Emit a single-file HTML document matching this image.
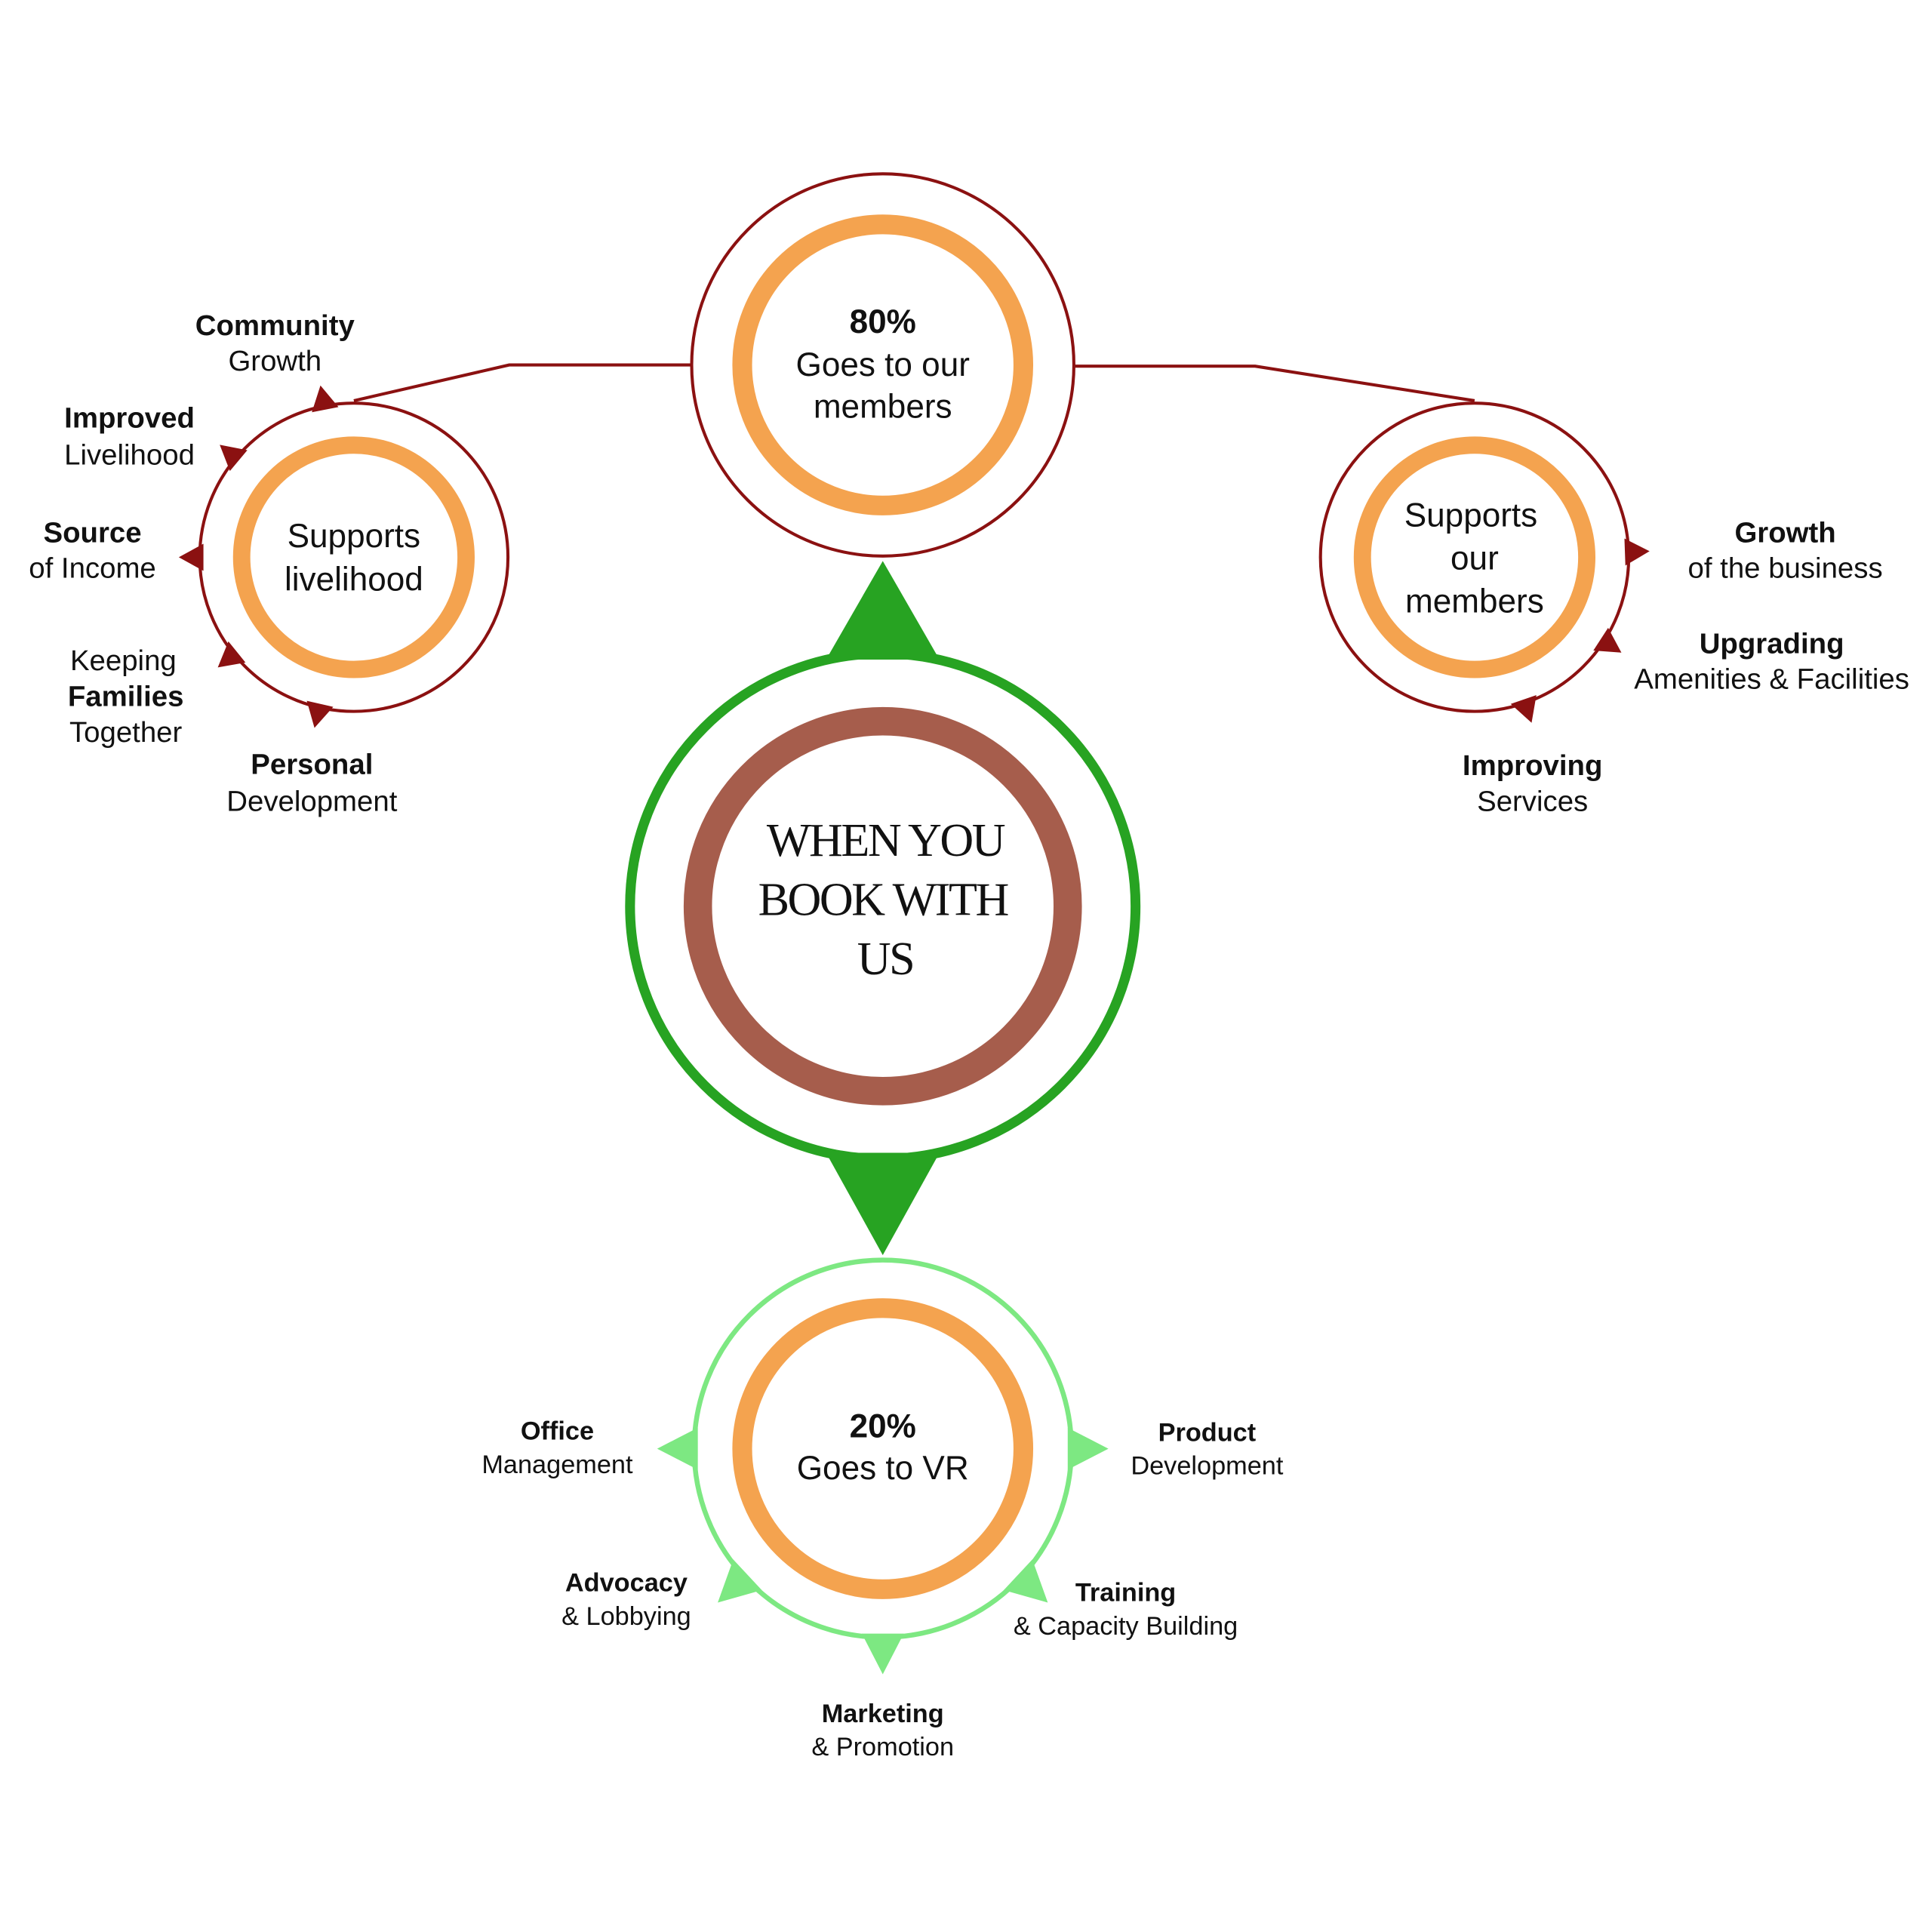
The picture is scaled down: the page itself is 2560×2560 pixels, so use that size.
<!DOCTYPE html>
<html><head><meta charset="utf-8"><style>html,body{margin:0;padding:0;background:#fff}svg{display:block}</style></head>
<body>
<svg width="2560" height="2560" viewBox="0 0 1567 1567" xmlns="http://www.w3.org/2000/svg">
<g fill="none">
<polyline points="560,296 413,296 287,325" stroke="#8B1111" stroke-width="2.5"/>
<polyline points="872,297 1018,297 1196,325" stroke="#8B1111" stroke-width="2.5"/>
<circle cx="716" cy="296" r="155" stroke="#8B1111" stroke-width="2.5" fill="#fff"/>
<circle cx="716" cy="296" r="114" stroke="#F4A34F" stroke-width="16"/>
<circle cx="287" cy="452" r="125" stroke="#8B1111" stroke-width="2.5" fill="#fff"/>
<circle cx="287" cy="452" r="91" stroke="#F4A34F" stroke-width="14"/>
<circle cx="1196" cy="452" r="125" stroke="#8B1111" stroke-width="2.5" fill="#fff"/>
<circle cx="1196" cy="452" r="91" stroke="#F4A34F" stroke-width="14"/>
<circle cx="716" cy="735" r="205" stroke="#27A322" stroke-width="8"/>
<circle cx="716" cy="735" r="150" stroke="#A65D4C" stroke-width="23"/>
<circle cx="716" cy="1175" r="153" stroke="#7DE882" stroke-width="4"/>
<circle cx="716" cy="1175" r="114" stroke="#F4A34F" stroke-width="16"/>
</g>
<polygon points="716,455 670,535 762,535" fill="#27A322"/>
<polygon points="716,1018 670,935 762,935" fill="#27A322"/>
<g fill="#8B1111">
<g transform="translate(287,452)">
<polygon transform="rotate(-101)" points="122,-11 122,11 142,0"/>
<polygon transform="rotate(-140)" points="122,-11 122,11 142,0"/>
<polygon transform="rotate(180)" points="122,-11 122,11 142,0"/>
<polygon transform="rotate(141)" points="122,-11 122,11 142,0"/>
<polygon transform="rotate(103)" points="122,-11 122,11 142,0"/>
</g>
<g transform="translate(1196,452)">
<polygon transform="rotate(-2)" points="122,-11 122,11 142,0"/>
<polygon transform="rotate(33)" points="122,-11 122,11 142,0"/>
<polygon transform="rotate(71)" points="122,-11 122,11 142,0"/>
</g>
</g>
<g fill="#7DE882" transform="translate(716,1175)">
<polygon transform="rotate(180)" points="150,-17 150,17 183,0"/>
<polygon transform="rotate(137)" points="150,-17 150,17 183,0"/>
<polygon transform="rotate(90)" points="150,-17 150,17 183,0"/>
<polygon transform="rotate(43)" points="150,-17 150,17 183,0"/>
<polygon transform="rotate(0)" points="150,-17 150,17 183,0"/>
</g>
<g font-family="Liberation Sans, sans-serif" fill="#111" text-anchor="middle" dominant-baseline="central">
<g font-size="27">
<text x="716" y="261" font-weight="bold">80%</text>
<text x="716" y="296">Goes to our</text>
<text x="716" y="330">members</text>
<text x="716" y="1157" font-weight="bold">20%</text>
<text x="716" y="1191">Goes to VR</text>
<text x="287" y="435">Supports</text>
<text x="287" y="470">livelihood</text>
<text x="1193" y="418">Supports</text>
<text x="1196" y="453">our</text>
<text x="1196" y="488">members</text>
</g>
<g font-size="23.5">
<text x="223" y="264" font-weight="bold">Community</text>
<text x="223" y="293">Growth</text>
<text x="105" y="339" font-weight="bold">Improved</text>
<text x="105" y="369">Livelihood</text>
<text x="75" y="432" font-weight="bold">Source</text>
<text x="75" y="461">of Income</text>
<text x="100" y="536">Keeping</text>
<text x="102" y="565" font-weight="bold">Families</text>
<text x="102" y="594">Together</text>
<text x="253" y="620" font-weight="bold">Personal</text>
<text x="253" y="650">Development</text>
<text x="1448" y="432" font-weight="bold">Growth</text>
<text x="1448" y="461">of the business</text>
<text x="1437" y="522" font-weight="bold">Upgrading</text>
<text x="1437" y="551">Amenities &amp; Facilities</text>
<text x="1243" y="621" font-weight="bold">Improving</text>
<text x="1243" y="650">Services</text>
</g>
<g font-size="21">
<text x="452" y="1161" font-weight="bold">Office</text>
<text x="452" y="1188">Management</text>
<text x="979" y="1162" font-weight="bold">Product</text>
<text x="979" y="1189">Development</text>
<text x="508" y="1284" font-weight="bold">Advocacy</text>
<text x="508" y="1311">&amp; Lobbying</text>
<text x="913" y="1292" font-weight="bold">Training</text>
<text x="913" y="1319">&amp; Capacity Building</text>
<text x="716" y="1390" font-weight="bold">Marketing</text>
<text x="716" y="1417">&amp; Promotion</text>
</g>
</g>
<g font-family="Liberation Serif, serif" font-size="38" fill="#111" text-anchor="middle" dominant-baseline="central" letter-spacing="-1.5">
<text x="718" y="682">WHEN YOU</text>
<text x="716" y="730">BOOK WITH</text>
<text x="718" y="778">US</text>
</g>
</svg>
</body></html>
